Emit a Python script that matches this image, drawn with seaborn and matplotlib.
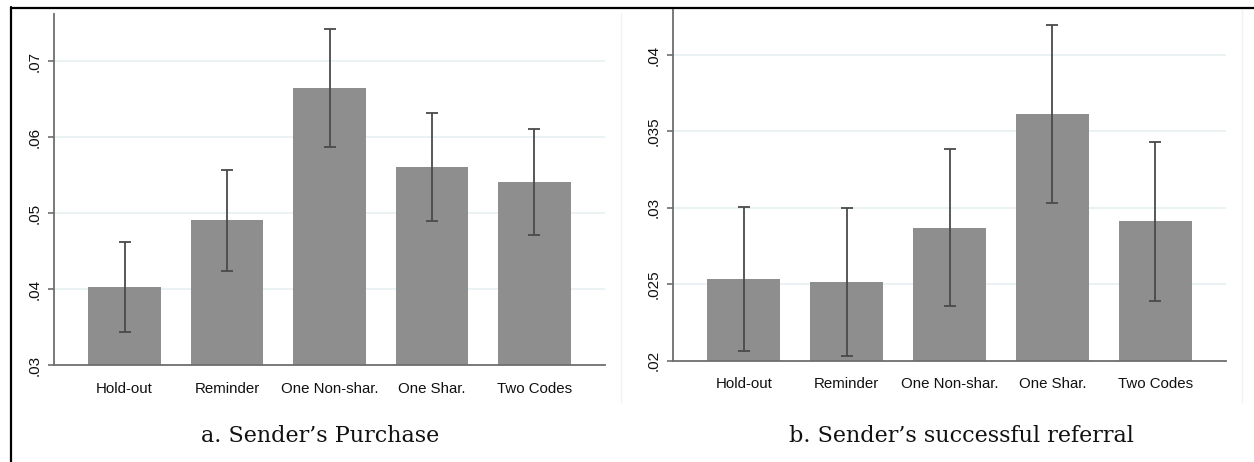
import numpy as np
import matplotlib
matplotlib.use("Agg")
import matplotlib.pyplot as plt
from matplotlib.ticker import FixedLocator
from matplotlib.lines import Line2D
import seaborn as sns

categories = ["Hold-out", "Reminder", "One Non-shar.", "One Shar.", "Two Codes"]

purchase_mean = [0.0403, 0.0491, 0.0664, 0.0560, 0.0541]
purchase_lo = [0.0344, 0.0424, 0.0587, 0.0489, 0.0471]
purchase_hi = [0.0462, 0.0557, 0.0742, 0.0632, 0.0611]
purchase_ticks = [0.03, 0.04, 0.05, 0.06, 0.07]
purchase_ticklabels = [".03", ".04", ".05", ".06", ".07"]

referral_mean = [0.02535, 0.02513, 0.0287, 0.03613, 0.02912]
referral_lo = [0.02065, 0.02029, 0.02358, 0.03034, 0.02391]
referral_hi = [0.03008, 0.02997, 0.03387, 0.04197, 0.03429]
referral_ticks = [0.02, 0.025, 0.03, 0.035, 0.04]
referral_ticklabels = [".02", ".025", ".03", ".035", ".04"]

captions = ["a. Sender\u2019s Purchase", "b. Sender\u2019s successful referral"]

sns.set_theme(style="white")
plt.rcParams["font.family"] = ["Liberation Sans", "DejaVu Sans"]

W, H = 1254, 462
fig = plt.figure(figsize=(W / 100, H / 100), dpi=100)

def px_rect(x0, y0, x1, y1):
    return [x0 / W, 1 - y1 / H, (x1 - x0) / W, (y1 - y0) / H]

panels = [
    dict(rect=px_rect(54, 14, 605, 365), mean=purchase_mean, lo=purchase_lo, hi=purchase_hi,
         ticks=purchase_ticks, labels=purchase_ticklabels, ylim=(0.03, 0.0762)),
    dict(rect=px_rect(673, 10, 1226, 360.7), mean=referral_mean, lo=referral_lo, hi=referral_hi,
         ticks=referral_ticks, labels=referral_ticklabels, ylim=(0.02, 0.04295)),
]

bar_color = "#8e8e8e"
axis_color = "#6e6e6e"
grid_color = "#e8f0f2"
text_color = "#111111"

for p in panels:
    ax = fig.add_axes(p["rect"])
    sns.barplot(x=categories, y=p["mean"], color=bar_color, width=0.71,
                saturation=1, ax=ax, zorder=2)
    for patch in ax.patches:
        patch.set_edgecolor("none")
    xs = np.arange(len(categories))
    mean = np.array(p["mean"])
    yerr = [mean - np.array(p["lo"]), np.array(p["hi"]) - mean]
    ax.errorbar(xs, mean, yerr=yerr, fmt="none", ecolor="#4a4a4a",
                elinewidth=1.3, capsize=4, capthick=1.3, zorder=3)
    ax.set_xlim(-0.688, 4.688)
    ax.set_ylim(*p["ylim"])
    ax.yaxis.set_major_locator(FixedLocator(p["ticks"]))
    ax.set_yticklabels(p["labels"], rotation=90, va="center", fontsize=11, color=text_color)
    for t in p["ticks"][1:]:
        ax.axhline(t, color=grid_color, lw=1.2, zorder=1)
    ax.tick_params(axis="y", left=True, length=4, width=1.2, color=axis_color, pad=5)
    ax.tick_params(axis="x", bottom=False, labelsize=10.8, pad=6, labelcolor=text_color)
    ax.set_xlabel("")
    ax.set_ylabel("")
    for s in ["top", "right"]:
        ax.spines[s].set_visible(False)
    for s in ["left", "bottom"]:
        ax.spines[s].set_color(axis_color)
        ax.spines[s].set_linewidth(1.3)
    ax.set_facecolor("white")

# captions
serif = ["DejaVu Serif", "Liberation Serif"]
fig.text(320 / W, 1 - 436 / H, captions[0], ha="center", va="center",
         fontsize=16, family=serif, color=text_color)
fig.text(961 / W, 1 - 436 / H, captions[1], ha="center", va="center",
         fontsize=16, family=serif, color=text_color)

# table-like borders
fig.add_artist(Line2D([11 / W, 1.0], [1 - 7.5 / H, 1 - 7.5 / H], color="black", lw=1.6))
fig.add_artist(Line2D([11 / W, 11 / W], [0.0, 1 - 7 / H], color="black", lw=1.6))
fig.add_artist(Line2D([621 / W, 621 / W], [1 - 402 / H, 1 - 13 / H], color="#f2f2f2", lw=1))
fig.add_artist(Line2D([1242 / W, 1242 / W], [1 - 402 / H, 1 - 10 / H], color="#f2f2f2", lw=1))

fig.savefig("out.png", dpi=100)
